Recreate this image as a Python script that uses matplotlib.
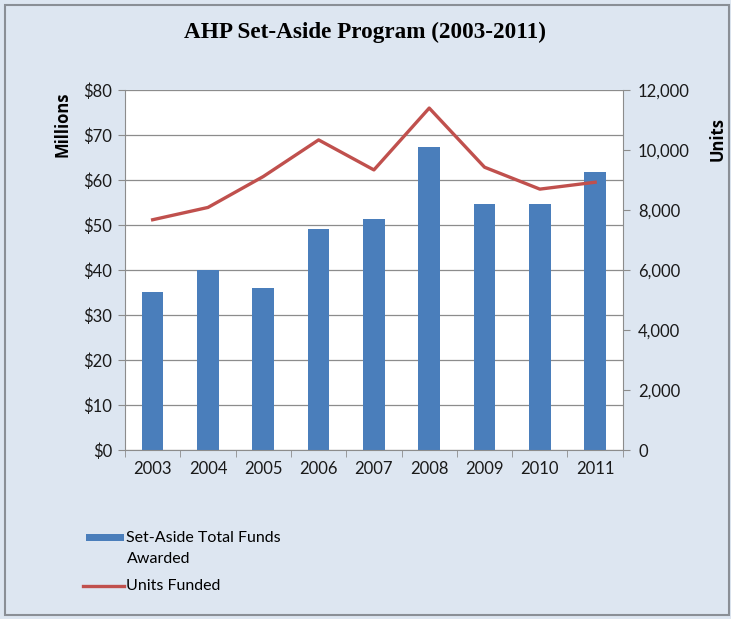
"""AHP Set-Aside Program (2003-2011): funds awarded (bars) and units funded (line)."""
import matplotlib

matplotlib.use("Agg")
import matplotlib.pyplot as plt
from matplotlib.lines import Line2D
from matplotlib.patches import Rectangle
from matplotlib.ticker import FuncFormatter, MultipleLocator
import numpy as np

YEARS = ["2003", "2004", "2005", "2006", "2007", "2008", "2009", "2010", "2011"]
FUNDS_MILLIONS = [35, 40, 36, 49, 51.3, 67.3, 54.7, 54.7, 61.8]
UNITS_FUNDED = [7670, 8080, 9110, 10330, 9330, 11390, 9420, 8690, 8920]

BAR_COLOR = "#4a7ebb"
LINE_COLOR = "#c0504d"
BG = "#dde6f1"

plt.rcParams["font.family"] = ["Lato", "DejaVu Sans"]

fig = plt.figure(figsize=(7.31, 6.19), dpi=100)
fig.patch.set_facecolor(BG)
fig.patches.append(Rectangle((0.007, 0.006), 0.99, 0.986, transform=fig.transFigure,
                             fill=False, edgecolor="#8a8f96", linewidth=1.5))

ax = fig.add_axes([0.171, 0.273, 0.681, 0.582])
ax.set_facecolor("white")
x = np.arange(len(YEARS))
ax.bar(x, FUNDS_MILLIONS, width=0.39, color=BAR_COLOR, zorder=2)
ax.set_xlim(-0.5, len(YEARS) - 0.5)
ax.set_ylim(0, 80)
ax.yaxis.set_major_locator(MultipleLocator(10))
ax.yaxis.set_major_formatter(FuncFormatter(lambda v, _: f"${v:.0f}"))
ax.grid(axis="y", color="#8c8c8c", linewidth=0.9, zorder=0)
ax.set_axisbelow(True)
ax.set_xticks(x)
ax.set_xticklabels(YEARS)
ax.set_xticks(np.arange(-0.5, len(YEARS)), minor=True)
ax.tick_params(axis="x", which="major", length=0, labelsize=12, pad=8, colors="#1a1a1a")
ax.tick_params(axis="x", which="minor", length=5, color="#8c8c8c")
ax.tick_params(axis="y", length=5, color="#8c8c8c", labelcolor="#1a1a1a", labelsize=12, pad=4)
for side in ("top", "right"):
    ax.spines[side].set_visible(False)
for side in ("left", "bottom"):
    ax.spines[side].set_color("#8c8c8c")

ax2 = ax.twinx()
ax2.plot(x, UNITS_FUNDED, color=LINE_COLOR, linewidth=2.4, zorder=3)
ax2.set_ylim(0, 12000)
ax2.yaxis.set_major_locator(MultipleLocator(2000))
ax2.yaxis.set_major_formatter(FuncFormatter(lambda v, _: f"{v:,.0f}"))
ax2.tick_params(axis="y", length=5, color="#8c8c8c", labelcolor="#1a1a1a", labelsize=12, pad=6)
for side in ("top", "left", "bottom"):
    ax2.spines[side].set_visible(False)
ax2.spines["right"].set_color("#8c8c8c")

fig.text(0.5, 0.947, "AHP Set-Aside Program (2003-2011)", ha="center", va="center",
         fontsize=16.7, fontweight="bold", family=["Liberation Serif", "DejaVu Serif"])
fig.text(0.085, 0.80, "Millions", rotation=90, ha="center", va="center",
         fontsize=12, fontweight="bold", family=["Open Sans", "DejaVu Sans"])
fig.text(0.982, 0.775, "Units", rotation=90, ha="center", va="center",
         fontsize=12, fontweight="bold", family=["Open Sans", "DejaVu Sans"])

# legend, drawn by hand so the swatch sits on the first line of the wrapped label
fig.patches.append(Rectangle((0.118, 0.126), 0.052, 0.011, transform=fig.transFigure,
                             facecolor=BAR_COLOR, edgecolor="none"))
fig.text(0.173, 0.131, "Set-Aside Total Funds", ha="left", va="center", fontsize=11.5)
fig.text(0.173, 0.097, "Awarded", ha="left", va="center", fontsize=11.5)
fig.lines.append(Line2D([0.114, 0.170], [0.053, 0.053], transform=fig.transFigure,
                        color=LINE_COLOR, linewidth=2.4))
fig.text(0.173, 0.053, "Units Funded", ha="left", va="center", fontsize=11.5)

fig.savefig("out.png", dpi=100, facecolor=BG)
